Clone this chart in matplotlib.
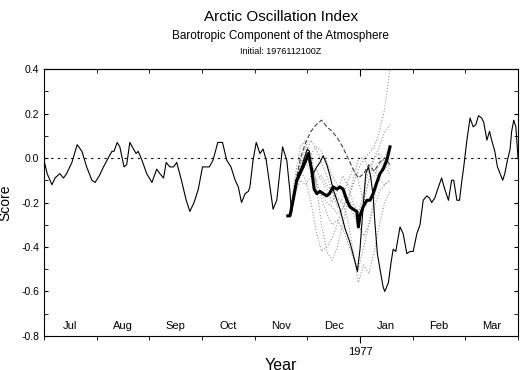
import matplotlib
matplotlib.use('Agg')
import matplotlib.pyplot as plt

plt.rcParams['font.family'] = ['Liberation Sans', 'DejaVu Sans']

# eje x en meses desde el 1 de julio de 1976
months = ['Jul', 'Aug', 'Sep', 'Oct', 'Nov', 'Dec', 'Jan', 'Feb', 'Mar']

# indice observado
obs_month = [0.00, 0.06, 0.15, 0.21, 0.30, 0.37, 0.43, 0.53, 0.63, 0.72, 0.81, 0.91, 0.97,
             1.05, 1.13, 1.22, 1.29, 1.33, 1.39, 1.44, 1.52, 1.57, 1.63, 1.70, 1.75, 1.79,
             1.86, 1.95, 2.05, 2.14, 2.20, 2.27, 2.32, 2.39, 2.46, 2.52, 2.61, 2.70, 2.77,
             2.85, 2.93, 3.01, 3.09, 3.14, 3.21, 3.30, 3.39, 3.47, 3.55, 3.63, 3.69, 3.75,
             3.82, 3.88, 3.91, 3.97, 4.03, 4.10, 4.16, 4.22, 4.29, 4.35, 4.42, 4.53, 4.61,
             4.67, 4.70, 4.76, 4.83, 4.89, 4.96, 5.00, 5.04, 5.08, 5.11, 5.18, 5.24, 5.30,
             5.37, 5.43, 5.49, 5.62, 5.72, 5.81, 5.91, 5.95, 6.00, 6.05, 6.11, 6.16, 6.20,
             6.25, 6.28, 6.33, 6.38, 6.44, 6.47, 6.54, 6.59, 6.63, 6.68, 6.76, 6.82, 6.89,
             6.95, 7.01, 7.08, 7.14, 7.20, 7.27, 7.32, 7.36, 7.42, 7.49, 7.55, 7.61, 7.68,
             7.74, 7.78, 7.84, 7.89, 7.93, 7.97, 8.03, 8.09, 8.15, 8.20, 8.25, 8.31, 8.35,
             8.41, 8.46, 8.50, 8.56, 8.61, 8.66, 8.71, 8.75, 8.80, 8.85, 8.88, 8.92, 8.96,
             9.00]
obs_score = [-0.01, -0.07, -0.12, -0.09, -0.07, -0.09, -0.07, -0.02, 0.06, 0.03, -0.04,
             -0.10, -0.11, -0.08, -0.04, 0.00, 0.03, 0.03, 0.07, 0.05, -0.04, -0.03, 0.07,
             0.04, 0.02, 0.03, -0.01, -0.07, -0.11, -0.05, -0.07, -0.09, -0.02, -0.04,
             -0.04, -0.02, -0.10, -0.19, -0.24, -0.20, -0.14, -0.04, -0.04, -0.04, -0.01,
             0.07, 0.07, -0.01, -0.04, -0.10, -0.13, -0.20, -0.16, -0.15, -0.13, -0.01,
             0.07, 0.02, 0.04, -0.01, -0.13, -0.23, -0.19, 0.05, -0.01, -0.15, -0.25,
             -0.14, -0.07, -0.04, 0.01, 0.04, 0.03, -0.05, -0.07, -0.04, -0.02, 0.01,
             -0.03, -0.08, -0.14, -0.23, -0.32, -0.38, -0.47, -0.51, -0.41, -0.25, -0.07,
             -0.04, -0.08, -0.17, -0.28, -0.43, -0.50, -0.58, -0.60, -0.56, -0.47, -0.41,
             -0.42, -0.31, -0.34, -0.43, -0.42, -0.42, -0.34, -0.30, -0.19, -0.17, -0.18,
             -0.20, -0.18, -0.13, -0.09, -0.14, -0.19, -0.10, -0.10, -0.19, -0.19, -0.11,
             -0.04, 0.08, 0.18, 0.14, 0.15, 0.19, 0.18, 0.16, 0.08, 0.12, 0.08, 0.03,
             -0.04, -0.07, -0.10, -0.07, -0.01, 0.04, 0.12, 0.17, 0.14, 0.00]

# media del conjunto
mean_month = [4.63, 4.67, 4.73, 4.80, 4.86, 4.92, 4.99, 5.02, 5.08, 5.13, 5.18, 5.24,
              5.30, 5.37, 5.42, 5.49, 5.56, 5.62, 5.68, 5.75, 5.81, 5.87, 5.94, 5.97,
              6.00, 6.06, 6.13, 6.19, 6.25, 6.32, 6.38, 6.44, 6.51, 6.57]
mean_score = [-0.26, -0.26, -0.19, -0.10, -0.07, -0.04, 0.00, 0.02, -0.05, -0.14,
              -0.16, -0.15, -0.16, -0.17, -0.16, -0.13, -0.14, -0.13, -0.14, -0.19,
              -0.22, -0.23, -0.24, -0.31, -0.26, -0.22, -0.19, -0.19, -0.16, -0.11,
              -0.07, -0.05, -0.01, 0.05]

# miembros del pronostico
fc_month = [4.67, 4.77, 4.87, 4.97, 5.07, 5.17, 5.27, 5.37, 5.47, 5.57,
            5.67, 5.77, 5.87, 5.97, 6.07, 6.17, 6.27, 6.37, 6.47, 6.57]
control = [-0.26, -0.12, 0.00, 0.07, 0.12, 0.15, 0.17, 0.14, 0.12, 0.09,
           0.05, 0.00, -0.05, -0.09, -0.07, -0.03, -0.06, -0.02, 0.00, -0.03]
members = [
    [-0.26, -0.12, -0.03, 0.02, -0.05, -0.12, -0.16, -0.20, -0.22, -0.25,
     -0.23, -0.18, -0.12, -0.05, 0.00, 0.02, 0.05, 0.12, 0.22, 0.40],
    [-0.26, -0.12, -0.02, 0.05, 0.02, -0.12, -0.30, -0.42, -0.46, -0.40,
     -0.30, -0.20, -0.10, 0.00, 0.00, -0.05, -0.05, -0.10, -0.12, -0.10],
    [-0.26, -0.15, -0.08, -0.02, -0.06, -0.10, -0.08, -0.12, -0.15, -0.18,
     -0.20, -0.28, -0.42, -0.56, -0.48, -0.52, -0.42, -0.30, -0.20, -0.15],
    [-0.26, -0.14, -0.06, -0.10, -0.20, -0.33, -0.42, -0.40, -0.36, -0.30,
     -0.22, -0.18, -0.22, -0.28, -0.18, -0.10, -0.08, -0.03, 0.00, -0.05],
    [-0.26, -0.10, -0.02, 0.00, 0.02, 0.05, 0.03, -0.02, -0.08, -0.12,
     -0.15, -0.20, -0.25, -0.30, -0.35, -0.30, -0.22, -0.15, -0.12, -0.10],
    [-0.26, -0.08, 0.05, 0.08, -0.02, -0.10, -0.18, -0.25, -0.30, -0.28,
     -0.32, -0.38, -0.45, -0.50, -0.40, -0.30, -0.18, -0.08, 0.00, 0.06],
    [-0.26, -0.16, -0.10, -0.12, -0.08, -0.05, -0.10, -0.14, -0.20, -0.15,
     -0.08, -0.12, -0.20, -0.25, -0.15, -0.05, 0.00, 0.02, -0.02, -0.08],
    [-0.26, -0.13, -0.05, 0.02, 0.08, 0.04, -0.02, -0.08, -0.15, -0.22,
     -0.18, -0.10, -0.05, -0.10, -0.20, -0.10, 0.00, 0.05, 0.12, 0.15],
]

fig = plt.figure(figsize=(5.23, 3.70), dpi=100)
ax = fig.add_axes([0.0841, 0.0919, 0.9063, 0.7216])

# linea de cero
ax.axhline(0, color='black', lw=0.8, ls=(0, (2, 4)))

for m in members:
    ax.plot(fc_month, m, color='#999999', lw=0.8, ls=':')
ax.plot(fc_month, control, color='#444444', lw=0.8, ls=(0, (4, 2)))
ax.plot(obs_month, obs_score, color='black', lw=0.8)
ax.plot(mean_month, mean_score, color='black', lw=2.2)

ax.set_xlim(0, 9)
ax.set_ylim(-0.8, 0.4)

# etiquetas de los meses dentro del grafico
for i, name in enumerate(months):
    ax.text(i + 0.5, -0.755, name, ha='center', va='center', fontsize=8)

ax.set_xticks([6])
ax.set_xticklabels(['1977'], fontsize=8)
ax.set_xticks(range(10), minor=True)
ax.tick_params(axis='x', which='major', direction='out', length=5, pad=3)
ax.tick_params(axis='x', which='minor', direction='out', length=3)

top = ax.secondary_xaxis('top')
top.set_xticks([6])
top.set_xticklabels([])
top.set_xticks(range(10), minor=True)
top.tick_params(axis='x', which='major', direction='in', length=5)
top.tick_params(axis='x', which='minor', direction='in', length=3)

ax.set_yticks([0.4, 0.2, 0.0, -0.2, -0.4, -0.6, -0.8])
ax.set_yticklabels(['0.4', '0.2', '0.0', '-0.2', '-0.4', '-0.6', '-0.8'], fontsize=7.5)
ax.set_yticks([0.3, 0.1, -0.1, -0.3, -0.5, -0.7], minor=True)
ax.tick_params(axis='y', which='both', direction='in', left=True, right=True, length=3)

ax.set_ylabel('Score', fontsize=10, labelpad=6)
fig.text(0.537, 0.032, 'Year', ha='center', va='top', fontsize=11.5)

fig.text(0.537, 0.955, 'Arctic Oscillation Index', ha='center', va='center', fontsize=11)
fig.text(0.537, 0.903, 'Barotropic Component of the Atmosphere', ha='center', va='center', fontsize=8.5)
fig.text(0.537, 0.860, 'Initial: 1976112100Z', ha='center', va='center', fontsize=6.5)

plt.savefig('out.png', dpi=100)
